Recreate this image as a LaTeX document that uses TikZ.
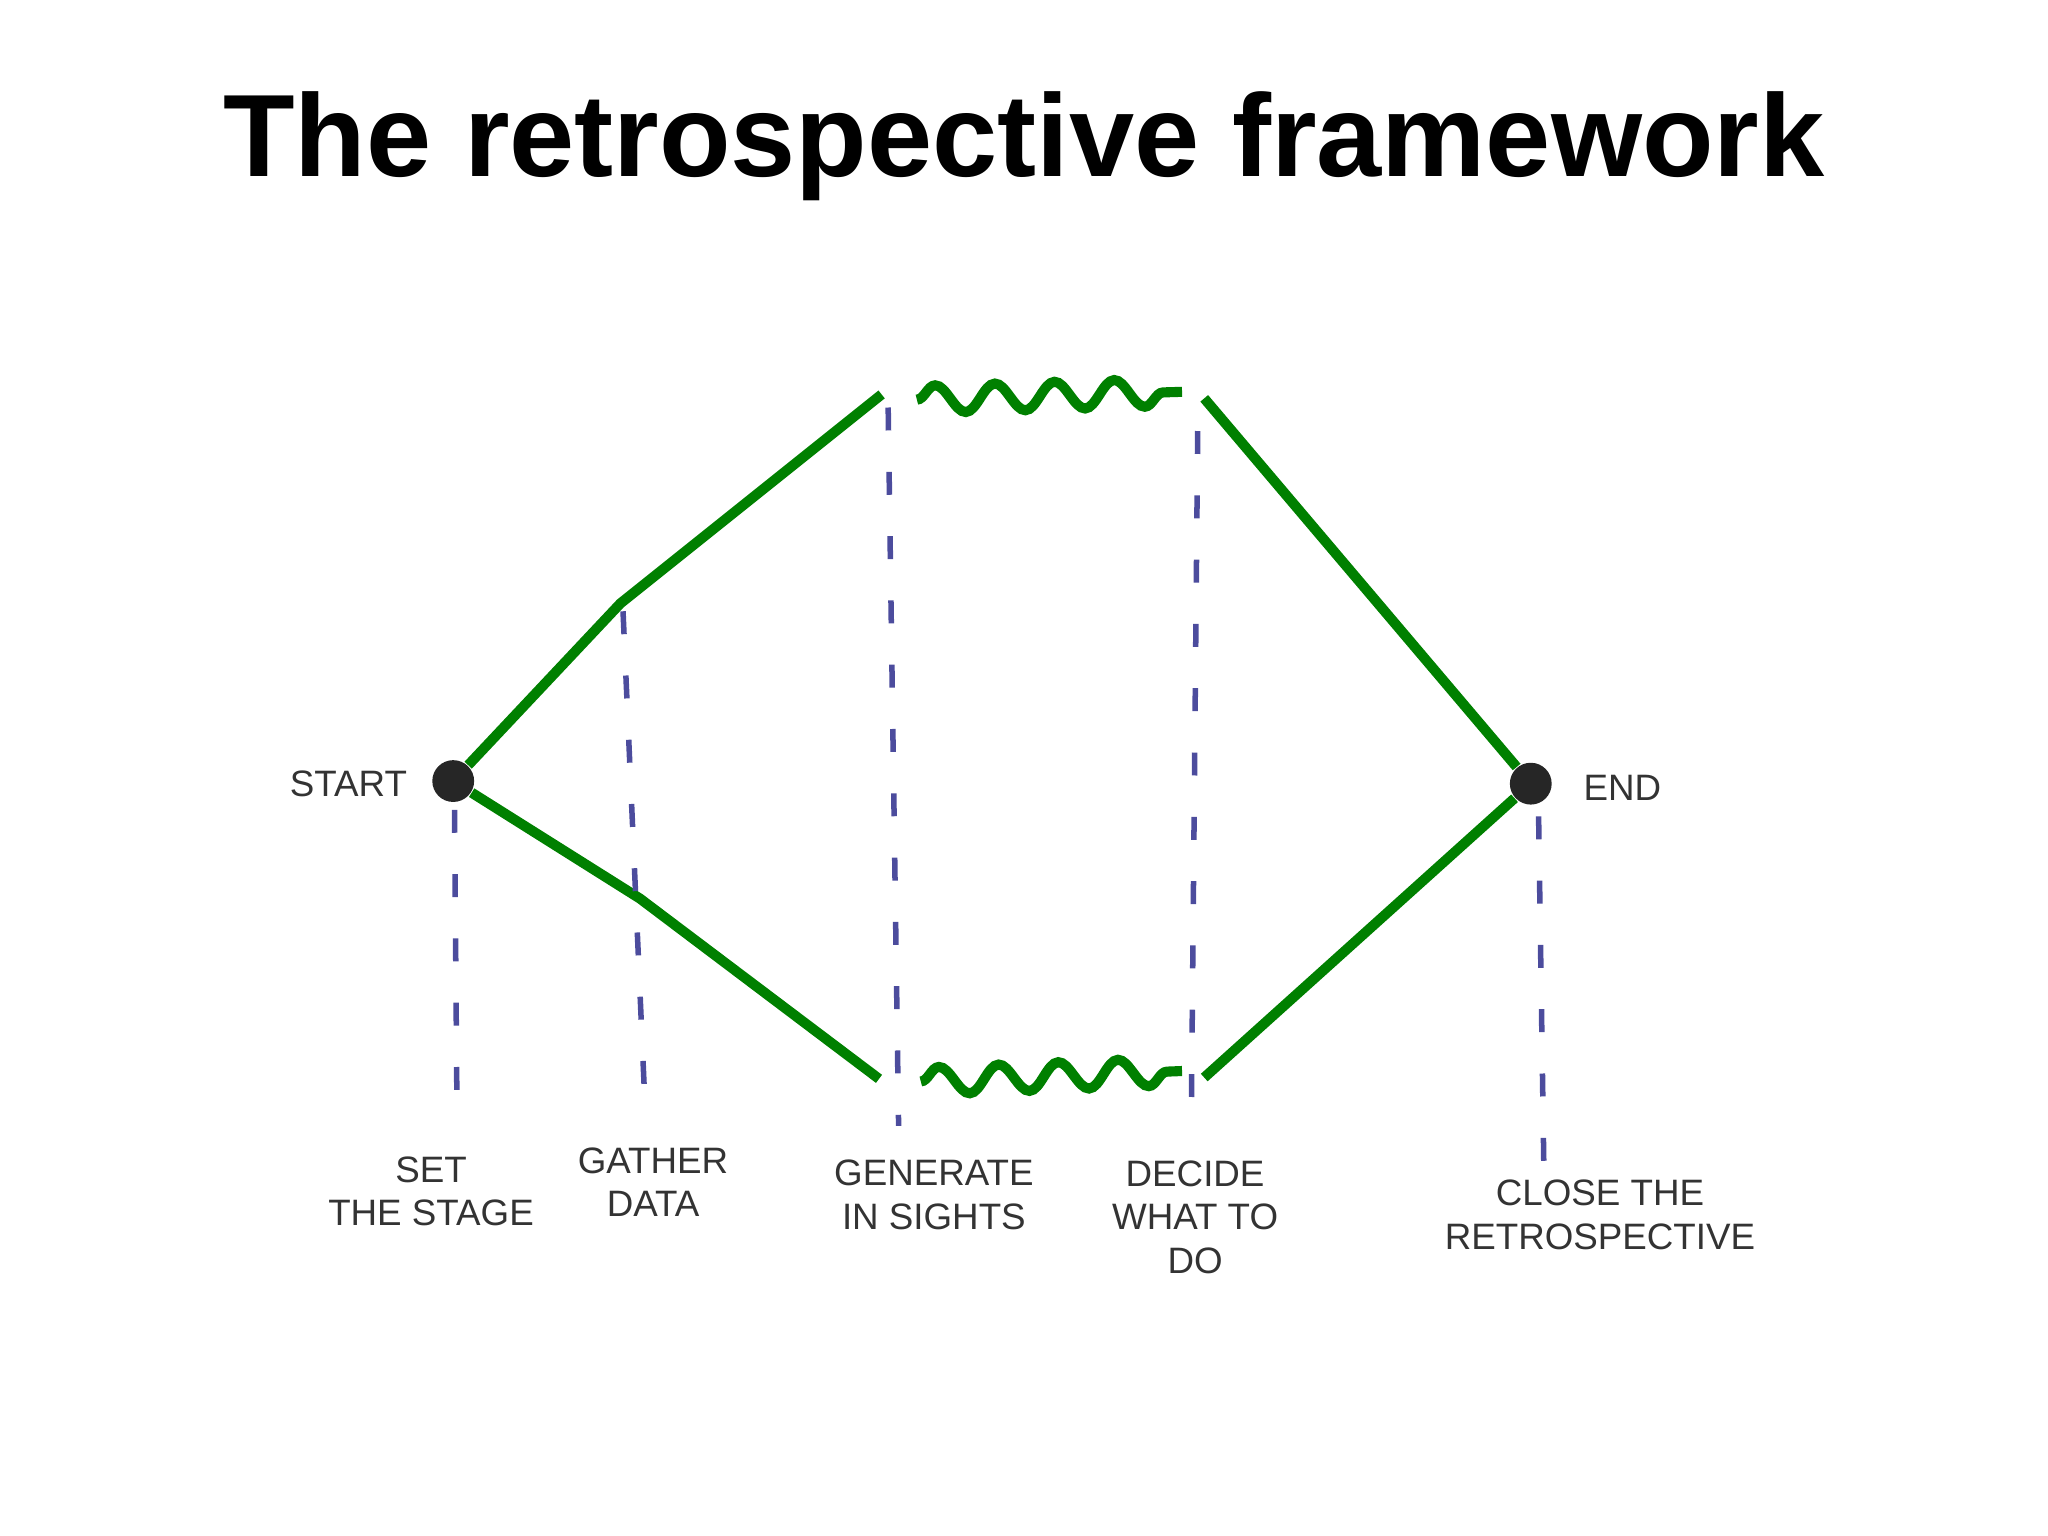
\documentclass[tikz,border=0pt]{standalone}
\usepackage{fontspec}
\setmainfont{Liberation Sans}
\usetikzlibrary{decorations.pathmorphing}
\begin{document}
\begin{tikzpicture}[x=0.01cm,y=-0.01cm,
  path/.style={draw=green!50!black,line width=2.2pt},
  wave/.style={path,decorate,decoration={snake,amplitude=3pt,segment length=13pt}},
  guide/.style={draw=blue!45!black!70,line width=1.2pt,dash pattern=on 5pt off 9pt},
  lbl/.style={font=\fontsize{8}{9.5}\selectfont,align=center,text=black!80},
  dot/.style={circle,fill=black!85,minimum size=0.32cm,inner sep=0pt}]
\useasboundingbox (0,0) rectangle (1568,1176);
\node[font=\fontsize{25.5}{30}\bfseries\selectfont] (title) at (784,112) {The retrospective framework};
\node[dot] (s) at (347,598) {};
\node[dot] (e) at (1172,600) {};
\coordinate (ul) at (675,302); \coordinate (ur) at (922,305);
\coordinate (ll) at (673,826); \coordinate (lr) at (922,825);
\coordinate (tw1) at (702,306); \coordinate (tw2) at (905,300);
\coordinate (bw1) at (705,828); \coordinate (bw2) at (905,820);
\draw[path] (s) -- (475,462) -- (ul);
\draw[path] (ur) -- (e);
\draw[path] (s) -- (490,688) -- (ll);
\draw[path] (lr) -- (e);
\draw[wave] (tw1) -- (tw2);
\draw[wave] (bw1) -- (bw2);
\coordinate (g1a) at (348,620); \coordinate (g1b) at (350,865);
\coordinate (g2a) at (477,468); \coordinate (g2b) at (494,850);
\coordinate (g3a) at (680,312); \coordinate (g3b) at (688,862);
\coordinate (g4a) at (917,330); \coordinate (g4b) at (912,868);
\coordinate (g5a) at (1178,625); \coordinate (g5b) at (1182,892);
\draw[guide] (g1a) -- (g1b);
\draw[guide] (g2a) -- (g2b);
\draw[guide] (g3a) -- (g3b);
\draw[guide] (g4a) -- (g4b);
\draw[guide] (g5a) -- (g5b);
\node[lbl,anchor=east] (st) at (324,600) {START};
\node[lbl,anchor=west] (en) at (1200,603) {END};
\node[lbl] (l1) at (330,912) {SET\\THE STAGE};
\node[lbl] (l2) at (500,905) {GATHER\\DATA};
\node[lbl] (l3) at (715,915) {GENERATE\\IN SIGHTS};
\node[lbl] (l4) at (915,932) {DECIDE\\WHAT TO\\DO};
\node[lbl] (l5) at (1225,930) {CLOSE THE\\RETROSPECTIVE};
\end{tikzpicture}
\end{document}
